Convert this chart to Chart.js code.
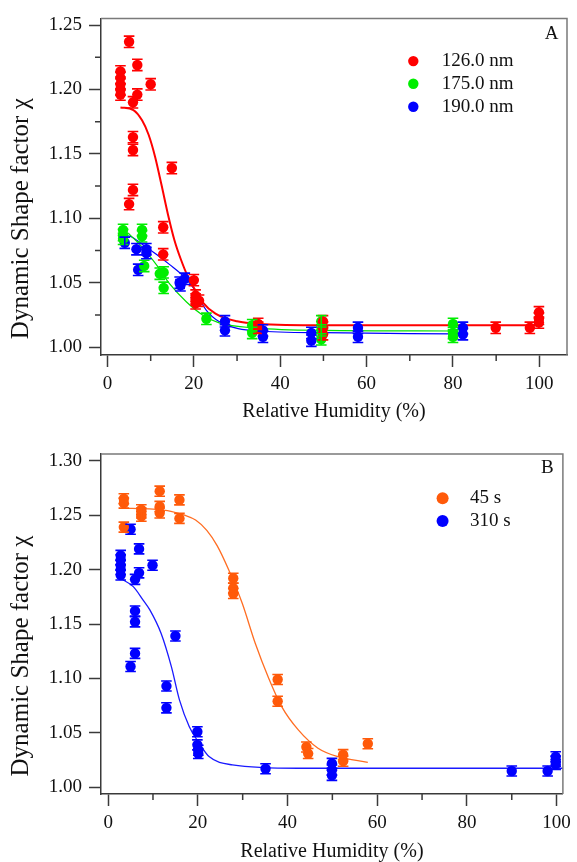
<!DOCTYPE html>
<html>
<head>
<meta charset="utf-8">
<script src="https://cdn.jsdelivr.net/npm/chart.js@4.4.0/dist/chart.umd.min.js"></script>
<style>
  html, body { margin: 0; padding: 0; background: #fff; }
  canvas { display: block; }
</style>
</head>
<body>
<canvas id="chartA" width="577" height="431"></canvas>
<canvas id="chartB" width="577" height="431"></canvas>
<script>
// ---- Panel A: shape factor vs RH for three mobility sizes ----
const rh126  = [3.0, 3.0, 3.0, 3.0, 3.0, 5.0, 6.9, 6.9, 10.0, 5.9, 5.9, 5.9, 5.9, 5.0, 14.9, 12.9, 12.9, 20.0, 20.4, 20.4, 20.4, 21.2, 34.9, 34.9, 49.9, 49.9, 49.9, 89.9, 97.8, 99.9, 99.9, 99.9];
const chi126 = [1.214, 1.209, 1.204, 1.200, 1.196, 1.237, 1.219, 1.196, 1.204, 1.190, 1.163, 1.153, 1.122, 1.111, 1.139, 1.093, 1.072, 1.052, 1.040, 1.037, 1.034, 1.036, 1.018, 1.015, 1.020, 1.015, 1.010, 1.015, 1.015, 1.027, 1.022, 1.019];

const rh175  = [3.6, 3.6, 3.6, 8.0, 8.0, 8.5, 12.1, 13.0, 13.0, 22.9, 33.5, 33.5, 49.5, 49.5, 49.5, 80.0, 80.0, 80.0];
const chi175 = [1.091, 1.087, 1.084, 1.091, 1.086, 1.063, 1.057, 1.058, 1.046, 1.022, 1.017, 1.011, 1.020, 1.013, 1.006, 1.018, 1.011, 1.008];

const rh190  = [4.0, 6.7, 9.0, 9.0, 7.1, 16.7, 17.9, 16.9, 27.2, 27.2, 36.0, 36.0, 47.2, 47.2, 58.0, 58.0, 82.3, 82.3];
const chi190 = [1.081, 1.076, 1.076, 1.073, 1.060, 1.050, 1.053, 1.048, 1.020, 1.013, 1.013, 1.008, 1.011, 1.005, 1.015, 1.008, 1.015, 1.010];

// fitted curves
const fitRh126  = [3, 6, 8, 9.5, 11, 12.5, 14, 15.5, 17, 18.7, 20, 22, 25, 30, 35, 50, 100];
const fitChi126 = [1.186, 1.184, 1.176, 1.165, 1.148, 1.126, 1.103, 1.083, 1.068, 1.054, 1.046, 1.035, 1.026, 1.020, 1.018, 1.017, 1.017];
const fitRh175  = [4.8, 8.2, 11.3, 14.4, 18.3, 22, 26, 34.5, 50, 80];
const fitChi175 = [1.0885, 1.077, 1.064, 1.049, 1.035, 1.025, 1.0186, 1.0148, 1.013, 1.0125];
const fitRh190  = [3.0, 5.2, 8.2, 11.3, 14.4, 17.5, 19.8, 22.9, 26, 34.5, 50, 80];
const fitChi190 = [1.087, 1.086, 1.0795, 1.072, 1.064, 1.0553, 1.0463, 1.0285, 1.0195, 1.0125, 1.0112, 1.0102];

// ---- Panel B: shape factor vs RH for two residence times ----
const rh45  = [3.5, 3.5, 3.5, 7.4, 7.4, 7.4, 11.5, 11.5, 11.5, 15.9, 15.9, 27.9, 27.9, 27.9, 37.8, 37.8, 44.2, 44.6, 52.4, 52.4, 57.9];
const chi45 = [1.265, 1.261, 1.239, 1.255, 1.252, 1.249, 1.272, 1.258, 1.252, 1.264, 1.247, 1.192, 1.183, 1.178, 1.099, 1.079, 1.037, 1.031, 1.030, 1.024, 1.040];

const rh310  = [2.8, 2.8, 2.8, 2.8, 2.8, 5.0, 6.9, 6.9, 6.0, 9.9, 6.0, 6.0, 5.0, 6.0, 15.0, 13.0, 13.0, 19.9, 19.9, 20.1, 20.1, 35.1, 49.9, 49.9, 49.9, 90.0, 98.0, 99.8, 99.8, 99.8];
const chi310 = [1.213, 1.209, 1.204, 1.200, 1.195, 1.237, 1.219, 1.197, 1.191, 1.204, 1.162, 1.152, 1.111, 1.123, 1.139, 1.093, 1.073, 1.051, 1.039, 1.034, 1.031, 1.017, 1.022, 1.016, 1.011, 1.015, 1.015, 1.028, 1.024, 1.021];

const fitRh45  = [3.1, 10, 14, 17, 19.5, 22, 24.3, 26.9, 29.9, 32.8, 35.8, 38.7, 42.4, 46.8, 51.2, 57.9];
const fitChi45 = [1.2565, 1.2555, 1.2535, 1.250, 1.2455, 1.236, 1.222, 1.1996, 1.169, 1.1323, 1.1002, 1.0741, 1.0527, 1.0359, 1.0282, 1.023];
const fitRh310  = [2.7, 5.6, 7.8, 9.3, 11.8, 14.1, 15.9, 18.1, 20.3, 22.5, 27.7, 42.4, 101.4];
const fitChi310 = [1.192, 1.1843, 1.172, 1.163, 1.1415, 1.1108, 1.0803, 1.0557, 1.0405, 1.0282, 1.0206, 1.0175, 1.0175];

// axes
const xTicks = [0, 20, 40, 60, 80, 100];
const xMinor = [10, 30, 50, 70, 90];
const yTicksA = [1.00, 1.05, 1.10, 1.15, 1.20, 1.25];
const yMinorA = [1.025, 1.075, 1.125, 1.175, 1.225];
const yTicksB = [1.00, 1.05, 1.10, 1.15, 1.20, 1.25, 1.30];

const FONT = '"Liberation Serif", "Times New Roman", serif';
const AXIS = '#3a3a3a';

function pts(xs, ys) {
    return xs.map((x, i) => ({ x: x, y: ys[i] }));
}

function markers(label, xs, ys, color, err) {
    return {
        label: label, data: pts(xs, ys), errBar: err,
        backgroundColor: color, borderWidth: 0, pointRadius: 5.2, order: 1
    };
}

function curve(xs, ys, color, width) {
    return {
        data: pts(xs, ys), showLine: true, pointRadius: 0,
        borderColor: color, borderWidth: width,
        cubicInterpolationMode: 'monotone', fill: false, order: 2
    };
}

// error bars, minor ticks, frame, y title, legend and panel letter
const decorPlugin = {
    id: 'decor',
    afterDatasetsDraw(chart) {
        const { ctx, scales: { x, y } } = chart;
        chart.data.datasets.forEach(ds => {
            if (!ds.errBar) return;
            ctx.save();
            ctx.strokeStyle = ds.backgroundColor;
            ctx.lineWidth = 1.6;
            ds.data.forEach(p => {
                const px = x.getPixelForValue(p.x);
                const t = y.getPixelForValue(p.y + ds.errBar);
                const b = y.getPixelForValue(p.y - ds.errBar);
                ctx.beginPath();
                ctx.moveTo(px, t); ctx.lineTo(px, b);
                ctx.moveTo(px - 5.3, t); ctx.lineTo(px + 5.3, t);
                ctx.moveTo(px - 5.3, b); ctx.lineTo(px + 5.3, b);
                ctx.stroke();
            });
            ctx.restore();
        });
    },
    afterDraw(chart, args, opts) {
        const { ctx, chartArea: a, scales: { x, y } } = chart;
        ctx.save();

        // grey top/right frame
        ctx.strokeStyle = '#7a7a7a';
        ctx.lineWidth = 1.5;
        ctx.beginPath();
        ctx.moveTo(a.left, a.top); ctx.lineTo(a.right, a.top); ctx.lineTo(a.right, a.bottom);
        ctx.stroke();

        // minor ticks
        ctx.strokeStyle = AXIS;
        ctx.lineWidth = 1.5;
        ctx.beginPath();
        opts.xMinor.forEach(v => {
            const px = x.getPixelForValue(v);
            ctx.moveTo(px, a.bottom); ctx.lineTo(px, a.bottom + 6);
        });
        opts.yMinor.forEach(v => {
            const py = y.getPixelForValue(v);
            ctx.moveTo(a.left - 6, py); ctx.lineTo(a.left, py);
        });
        ctx.stroke();

        // y axis title (sits a little below the middle of the axis)
        ctx.fillStyle = '#111';
        ctx.font = '25px ' + FONT;
        ctx.textAlign = 'center';
        ctx.textBaseline = 'middle';
        ctx.translate(21.7, (a.top + a.bottom) / 2 + 32);
        ctx.rotate(-Math.PI / 2);
        ctx.fillText('Dynamic Shape factor \u03c7', 0, 0);
        ctx.restore();

        ctx.save();
        ctx.font = '19px ' + FONT;
        ctx.fillStyle = '#111';
        ctx.textBaseline = 'middle';
        ctx.textAlign = 'center';
        ctx.fillText(opts.letter, a.right - 15.5, a.top + opts.letterDy);

        // legend
        ctx.textAlign = 'left';
        const items = chart.data.datasets.filter(ds => ds.label);
        items.forEach((ds, i) => {
            const my = a.top + opts.rows[i];
            ctx.fillStyle = ds.backgroundColor;
            ctx.beginPath();
            ctx.arc(a.right - opts.markerDx, my, opts.markerR, 0, Math.PI * 2);
            ctx.fill();
            ctx.fillStyle = '#111';
            ctx.fillText(ds.label, a.right - opts.textDx, my);
        });
        ctx.restore();
    }
};

function makeChart(id, cfg) {
    const tickFont = { family: FONT, size: 19 };
    new Chart(document.getElementById(id), {
        type: 'scatter',
        data: { datasets: cfg.datasets },
        plugins: [decorPlugin],
        options: {
            responsive: false,
            animation: false,
            events: [],
            layout: { padding: { left: 0, right: 10, top: cfg.top, bottom: 0 } },
            plugins: {
                legend: { display: false },
                tooltip: { enabled: false },
                decor: cfg.decor
            },
            scales: {
                x: {
                    type: 'linear', min: cfg.xMin, max: cfg.xMax,
                    afterBuildTicks: s => { s.ticks = xTicks.map(v => ({ value: v })); },
                    afterFit: s => { s.height = cfg.xHeight; },
                    grid: { drawOnChartArea: false, tickLength: 12, tickColor: AXIS, tickWidth: 1.5 },
                    border: { color: AXIS, width: 1.5 },
                    ticks: { font: tickFont, color: '#111', padding: 6, maxRotation: 0, callback: v => String(v) },
                    title: {
                        display: true, text: 'Relative Humidity (%)', color: '#111',
                        font: { family: FONT, size: 20, lineHeight: 1 },
                        padding: { top: 0, bottom: cfg.titlePad }
                    }
                },
                y: {
                    type: 'linear', min: cfg.yMin, max: cfg.yMax,
                    afterBuildTicks: s => { s.ticks = cfg.yTicks.map(v => ({ value: v })); },
                    afterFit: s => { s.width = 101; },
                    grid: { drawOnChartArea: false, tickLength: 12, tickColor: AXIS, tickWidth: 1.5 },
                    border: { color: AXIS, width: 1.5 },
                    ticks: { font: tickFont, color: '#111', padding: 7, callback: v => v.toFixed(2) }
                }
            }
        }
    });
}

function drawAll() {
    makeChart('chartA', {
        top: 14, xHeight: 76, titlePad: 9.5,
        xMin: -1.505, xMax: 106.4, yMin: 0.99387, yMax: 1.25513, yTicks: yTicksA,
        datasets: [
            markers('126.0 nm', rh126, chi126, '#ff0000', 0.0044),
            markers('175.0 nm', rh175, chi175, '#00ee00', 0.0044),
            markers('190.0 nm', rh190, chi190, '#0000ff', 0.0044),
            curve(fitRh126, fitChi126, '#ff0000', 2),
            curve(fitRh175, fitChi175, '#00e000', 1.2),
            curve(fitRh190, fitChi190, '#0000ff', 1.2)
        ],
        decor: {
            letter: 'A', letterDy: 16, xMinor: xMinor, yMinor: yMinorA,
            rows: [42.7, 65.3, 88.3], markerDx: 153.7, textDx: 125.3, markerR: 5.2
        }
    });

    makeChart('chartB', {
        top: 23, xHeight: 68, titlePad: 0.5,
        xMin: -1.59, xMax: 101.4, yMin: 0.99385, yMax: 1.30615, yTicks: yTicksB,
        datasets: [
            markers('45 s', rh45, chi45, '#ff5a0a', 0.0046),
            markers('310 s', rh310, chi310, '#0000ff', 0.0046),
            curve(fitRh45, fitChi45, '#ff6d22', 1.3),
            curve(fitRh310, fitChi310, '#1a1aff', 1.3)
        ],
        decor: {
            letter: 'B', letterDy: 13.8, xMinor: xMinor, yMinor: [],
            rows: [44.3, 67], markerDx: 120.3, textDx: 93, markerR: 6
        }
    });
}

// make sure the serif face is ready before the canvases are painted
Promise.all([
    document.fonts.load('19px "Liberation Serif"'),
    document.fonts.load('25px "Liberation Serif"')
]).then(drawAll, drawAll);
</script>
</body>
</html>
